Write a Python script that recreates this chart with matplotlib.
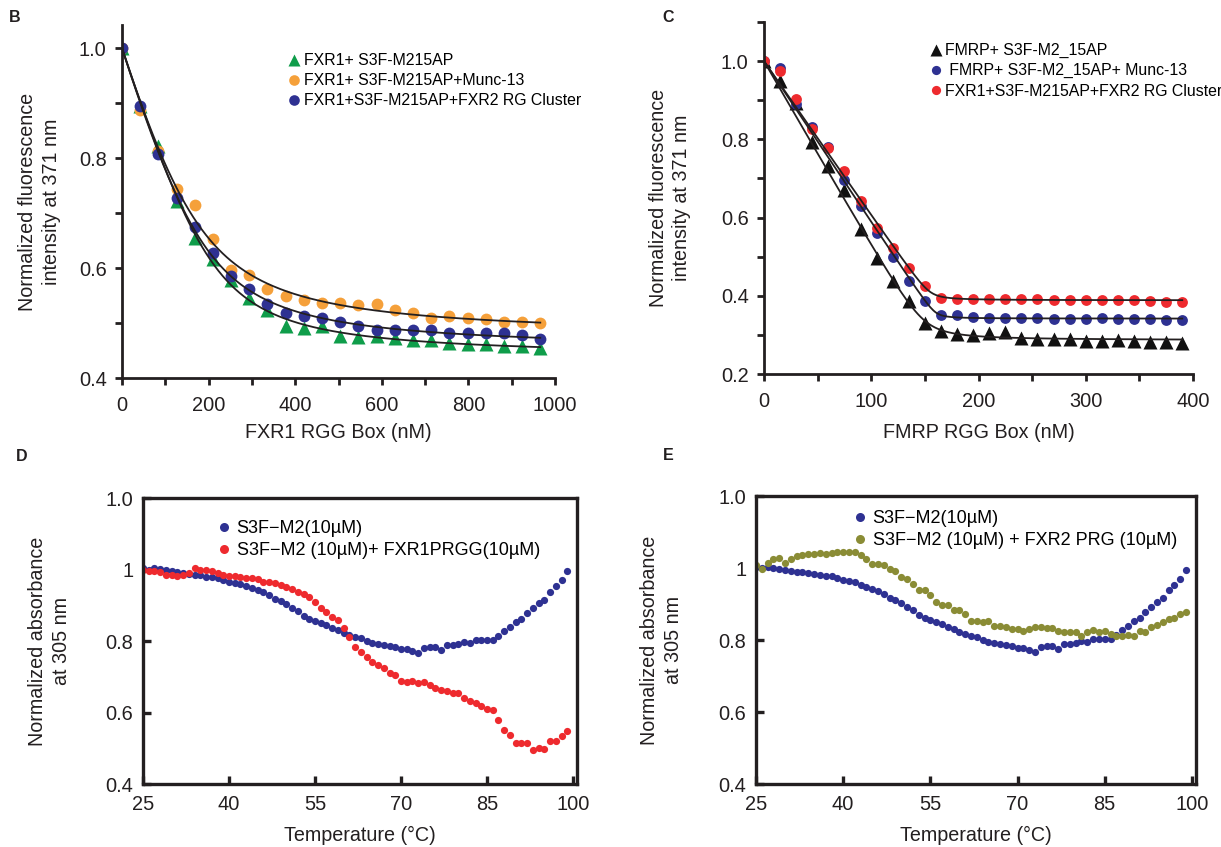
import numpy as np
import matplotlib
matplotlib.use("Agg")
import matplotlib.pyplot as plt
from matplotlib.ticker import MultipleLocator

plt.rcParams['font.family'] = ['Liberation Sans', 'DejaVu Sans']

# ---- panel B: FXR1 RGG box titration ----
fxr1_nm = [0, 42, 84, 126, 168, 210, 252, 294, 336, 378, 420, 462,
           504, 546, 588, 630, 672, 714, 756, 798, 840, 882, 924, 966]
b_m215ap = [1.000, 0.895, 0.822, 0.722, 0.655, 0.616, 0.579, 0.546, 0.523, 0.494, 0.491, 0.494,
            0.476, 0.475, 0.476, 0.473, 0.469, 0.469, 0.464, 0.461, 0.461, 0.459, 0.458, 0.455]
b_munc13 = [1.000, 0.888, 0.812, 0.743, 0.715, 0.652, 0.596, 0.587, 0.561, 0.549, 0.541, 0.537,
            0.537, 0.532, 0.534, 0.523, 0.519, 0.509, 0.512, 0.509, 0.508, 0.501, 0.501, 0.500]
b_rgclust = [1.000, 0.894, 0.807, 0.728, 0.675, 0.628, 0.585, 0.561, 0.534, 0.519, 0.512, 0.509,
             0.501, 0.495, 0.488, 0.488, 0.488, 0.488, 0.482, 0.481, 0.481, 0.481, 0.479, 0.471]
b_labels = ["FXR1+ S3F-M215AP", "FXR1+ S3F-M215AP+Munc-13", "FXR1+S3F-M215AP+FXR2 RG Cluster"]

# ---- panel C: FMRP RGG box titration ----
fmrp_nm = list(range(0, 391, 15))
c_m215ap = [1.000, 0.948, 0.894, 0.793, 0.733, 0.671, 0.572, 0.496, 0.437, 0.386, 0.331, 0.310, 0.301, 0.299,
            0.306, 0.307, 0.293, 0.289, 0.290, 0.290, 0.285, 0.285, 0.287, 0.285, 0.283, 0.283, 0.280]
c_munc13 = [1.000, 0.983, 0.890, 0.832, 0.780, 0.695, 0.629, 0.560, 0.499, 0.437, 0.386, 0.350, 0.350, 0.345,
            0.344, 0.344, 0.344, 0.344, 0.341, 0.341, 0.341, 0.344, 0.341, 0.341, 0.341, 0.337, 0.337]
c_rgclust = [1.000, 0.975, 0.903, 0.826, 0.778, 0.718, 0.642, 0.574, 0.523, 0.471, 0.426, 0.395, 0.393, 0.392,
             0.392, 0.392, 0.392, 0.392, 0.390, 0.390, 0.389, 0.388, 0.388, 0.388, 0.386, 0.384, 0.384]
c_labels = ["FMRP+ S3F-M2_15AP", " FMRP+ S3F-M2_15AP+ Munc-13", "FXR1+S3F-M215AP+FXR2 RG Cluster"]

# ---- panels D/E: thermal melts ----
temp_c = list(range(25, 100))
s3f_m2 = [1.003, 1.000, 1.004, 1.001, 0.998, 0.995, 0.992, 0.990, 0.988, 0.986, 0.984, 0.980, 0.978, 0.977, 0.972,
          0.966, 0.963, 0.960, 0.954, 0.947, 0.943, 0.937, 0.928, 0.918, 0.912, 0.904, 0.892, 0.884, 0.870, 0.862,
          0.856, 0.850, 0.844, 0.836, 0.830, 0.823, 0.816, 0.812, 0.807, 0.799, 0.795, 0.791, 0.789, 0.787, 0.783,
          0.778, 0.779, 0.772, 0.766, 0.781, 0.784, 0.782, 0.774, 0.788, 0.790, 0.792, 0.797, 0.794, 0.802, 0.803,
          0.804, 0.804, 0.815, 0.828, 0.838, 0.853, 0.862, 0.878, 0.893, 0.905, 0.916, 0.938, 0.953, 0.970, 0.995]
s3f_fxr1 = [1.000, 0.997, 0.995, 0.993, 0.984, 0.986, 0.983, 0.985, 0.990, 1.003, 0.998, 1.000, 0.995, 0.990, 0.985,
            0.981, 0.982, 0.980, 0.976, 0.977, 0.973, 0.966, 0.964, 0.961, 0.958, 0.952, 0.946, 0.938, 0.932, 0.924,
            0.910, 0.891, 0.882, 0.868, 0.859, 0.835, 0.812, 0.784, 0.770, 0.756, 0.742, 0.733, 0.724, 0.710, 0.705,
            0.687, 0.684, 0.689, 0.682, 0.684, 0.677, 0.668, 0.663, 0.659, 0.654, 0.654, 0.640, 0.631, 0.626, 0.617,
            0.609, 0.607, 0.580, 0.552, 0.538, 0.514, 0.514, 0.514, 0.494, 0.500, 0.498, 0.519, 0.519, 0.533, 0.547]
s3f_fxr2 = [1.007, 0.998, 1.015, 1.024, 1.028, 1.015, 1.024, 1.033, 1.037, 1.040, 1.040, 1.041, 1.040, 1.043, 1.045,
            1.045, 1.045, 1.044, 1.035, 1.026, 1.012, 1.012, 1.009, 0.998, 0.993, 0.975, 0.970, 0.956, 0.938, 0.938,
            0.924, 0.905, 0.896, 0.896, 0.882, 0.882, 0.873, 0.854, 0.854, 0.851, 0.854, 0.840, 0.840, 0.835, 0.831,
            0.831, 0.826, 0.831, 0.837, 0.835, 0.832, 0.832, 0.826, 0.821, 0.821, 0.821, 0.812, 0.821, 0.828, 0.823,
            0.826, 0.817, 0.812, 0.812, 0.814, 0.812, 0.826, 0.823, 0.835, 0.842, 0.849, 0.859, 0.860, 0.873, 0.877]
melt_yticks = [0.4, 0.6, 0.8, 1.0, 1.2]
melt_yticklabels = ["0.4", "0.6", "0.8", "1", "1.0"]
d_labels = ["S3F\u2212M2(10\u00b5M)", "S3F\u2212M2 (10\u00b5M)+ FXR1PRGG(10\u00b5M)"]
e_labels = ["S3F\u2212M2(10\u00b5M)", "S3F\u2212M2 (10\u00b5M) + FXR2 PRG (10\u00b5M)"]

BLUE = "#2e3192"
GREEN = "#0f9d4a"
ORANGE = "#f5a03a"
RED = "#ee2a2e"
OLIVE = "#8a8c35"
INK = "#231f20"
LABEL_FS = 14.2
TICK_FS = 14.4


def tight_binding(x, p, kd):
    s = p + x + kd
    return (s - np.sqrt(s * s - 4 * p * x)) / (2 * p)


def fit_curve(x, y):
    # quadratic binding model, grid search over P and Kd, amplitude by least squares
    x = np.asarray(x, float)
    y = np.asarray(y, float)
    best = None
    for p in np.linspace(10, 400, 79):
        for kd in np.geomspace(0.1, 1000, 81):
            f = tight_binding(x, p, kd)
            a = np.sum(f * (1 - y)) / np.sum(f * f)
            err = np.sum((1 - a * f - y) ** 2)
            if best is None or err < best[0]:
                best = (err, p, kd, a)
    xs = np.linspace(x.min(), x.max(), 300)
    return xs, 1 - best[3] * tight_binding(xs, best[1], best[2])


W, H = 1221, 847
fig = plt.figure(figsize=(W / 100, H / 100), dpi=100)


def px_axes(left, top, right, bottom):
    return fig.add_axes([left / W, 1 - bottom / H, (right - left) / W, (bottom - top) / H])


def style_open(ax):
    for s in ("top", "right"):
        ax.spines[s].set_visible(False)
    for s in ("left", "bottom"):
        ax.spines[s].set_linewidth(2.0)
        ax.spines[s].set_color(INK)
    ax.tick_params(which="both", direction="out", length=5, width=2, color=INK,
                   labelsize=TICK_FS, labelcolor=INK)
    ax.tick_params(axis="x", pad=8)
    ax.tick_params(axis="y", pad=6)


def style_box(ax):
    for s in ax.spines.values():
        s.set_linewidth(2.4)
        s.set_color(INK)
    ax.tick_params(which="both", direction="in", length=6, width=2.4, color=INK,
                   labelsize=TICK_FS, labelcolor=INK)
    ax.tick_params(axis="x", pad=8)
    ax.tick_params(axis="y", pad=7)


# ---- B ----
axB = px_axes(122, 25, 555, 378)
axB.plot(fxr1_nm, b_m215ap, "^", color=GREEN, ms=9.5, mec="none", label=b_labels[0], zorder=2)
axB.plot(fxr1_nm, b_munc13, "o", color=ORANGE, ms=8.5, mec="none", label=b_labels[1], zorder=2)
axB.plot(fxr1_nm, b_rgclust, "o", color=BLUE, ms=8.5, mec="none", label=b_labels[2], zorder=2)
for ys in (b_m215ap, b_munc13, b_rgclust):
    xs, yf = fit_curve(fxr1_nm, ys)
    axB.plot(xs, yf, color=INK, lw=1.3, zorder=3)
axB.set_xlim(0, 1000)
axB.set_ylim(0.4, 1.042)
axB.xaxis.set_major_locator(MultipleLocator(200))
axB.xaxis.set_minor_locator(MultipleLocator(100))
axB.yaxis.set_major_locator(MultipleLocator(0.2))
axB.yaxis.set_minor_locator(MultipleLocator(0.1))
axB.yaxis.set_major_formatter(lambda v, p: f"{v:.1f}")
style_open(axB)
axB.set_xlabel("FXR1 RGG Box (nM)", fontsize=LABEL_FS, color=INK)
axB.xaxis.set_label_coords(0.5, -0.127)
axB.set_ylabel("Normalized fluorescence\nintensity at 371 nm", fontsize=LABEL_FS, color=INK,
               linespacing=1.3)
axB.yaxis.set_label_coords(-0.141, 0.5)
axB.legend(loc="upper left", bbox_to_anchor=(0.385, 0.92), frameon=False, fontsize=11.4,
           handlelength=0.7, handletextpad=0.25, labelspacing=0.32, borderpad=0, borderaxespad=0,
           markerscale=0.9)

# ---- C ----
axC = px_axes(764, 22, 1193, 374)
axC.plot(fmrp_nm, c_m215ap, "^", color="#111111", ms=10, mec="none", label=c_labels[0], zorder=2)
axC.plot(fmrp_nm, c_munc13, "o", color=BLUE, ms=7.8, mec="none", label=c_labels[1], zorder=2)
axC.plot(fmrp_nm, c_rgclust, "o", color=RED, ms=7.8, mec="none", label=c_labels[2], zorder=2)
for ys in (c_m215ap, c_munc13, c_rgclust):
    xs, yf = fit_curve(fmrp_nm, ys)
    axC.plot(xs, yf, color=INK, lw=1.3, zorder=3)
axC.set_xlim(0, 400)
axC.set_ylim(0.2, 1.1)
axC.xaxis.set_major_locator(MultipleLocator(100))
axC.xaxis.set_minor_locator(MultipleLocator(50))
axC.yaxis.set_major_locator(MultipleLocator(0.2))
axC.yaxis.set_minor_locator(MultipleLocator(0.1))
axC.yaxis.set_major_formatter(lambda v, p: f"{v:.1f}")
style_open(axC)
axC.set_xlabel("FMRP RGG Box (nM)", fontsize=LABEL_FS, color=INK)
axC.xaxis.set_label_coords(0.5, -0.139)
axC.set_ylabel("Normalized fluorescence\nintensity at 371 nm", fontsize=LABEL_FS, color=INK,
               linespacing=1.3)
axC.yaxis.set_label_coords(-0.170, 0.5)
axC.legend(loc="upper left", bbox_to_anchor=(0.388, 0.94), frameon=False, fontsize=11.4,
           handlelength=0.7, handletextpad=0.25, labelspacing=0.32, borderpad=0, borderaxespad=0,
           markerscale=0.85)

# ---- D and E ----
axD = px_axes(143, 498, 577, 784)
axE = px_axes(756, 496, 1196, 784)
axD.plot(temp_c, s3f_m2, "o", color=BLUE, ms=5.2, mec="none", label=d_labels[0])
axD.plot(temp_c, s3f_fxr1, "o", color=RED, ms=5.2, mec="none", label=d_labels[1])
axE.plot(temp_c, s3f_m2, "o", color=BLUE, ms=5.2, mec="none", label=e_labels[0])
axE.plot(temp_c, s3f_fxr2, "o", color=OLIVE, ms=5.2, mec="none", label=e_labels[1])
for ax, anchor in ((axD, (0.172, 0.922)), (axE, (0.222, 0.95))):
    ax.set_xlim(25, 100.7)
    ax.set_ylim(0.4, 1.2)
    ax.set_xticks([25, 40, 55, 70, 85, 100])
    ax.set_yticks(melt_yticks)
    ax.set_yticklabels(melt_yticklabels)
    style_box(ax)
    ax.set_xlabel("Temperature (\u00b0C)", fontsize=LABEL_FS, color=INK)
    ax.xaxis.set_label_coords(0.5, -0.147)
    ax.set_ylabel("Normalized absorbance\nat 305 nm", fontsize=LABEL_FS, color=INK, linespacing=1.3)
    ax.yaxis.set_label_coords(-0.166, 0.5)
    ax.legend(loc="upper left", bbox_to_anchor=anchor, frameon=False, fontsize=13,
              handlelength=0.7, handletextpad=0.35, labelspacing=0.25, borderpad=0, borderaxespad=0,
              markerscale=1.25)

# panel letters
for letter, (x, y) in {"B": (15, 18), "C": (668, 18), "D": (22, 456), "E": (668, 455)}.items():
    fig.text(x / W, 1 - y / H, letter, fontsize=11.5, fontweight="bold", color=INK,
             ha="center", va="center")

fig.savefig("out.png", dpi=100)
